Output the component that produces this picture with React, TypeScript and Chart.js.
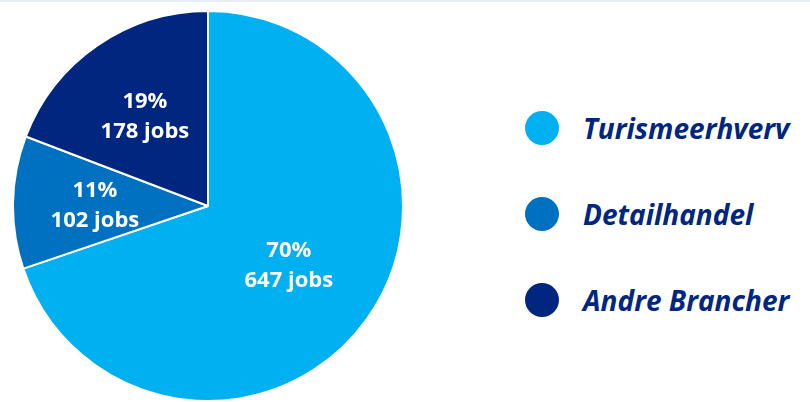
import React, { useEffect, useRef } from "react";
import { Chart, registerables } from "chart.js";

Chart.register(...registerables);

const categories = ["Turismeerhverv", "Detailhandel", "Andre Brancher"];
const jobs = [647, 102, 178];
const colors = ["#00B0F0", "#0070C0", "#00267F"];
const legendTextColor = "#00267F";

const labelPlugin = {
  id: "sliceLabels",
  afterDatasetsDraw(chart: any) {
    const ctx = chart.ctx;
    const meta = chart.getDatasetMeta(0);
    const data = chart.data.datasets[0].data as number[];
    const total = data.reduce((a, b) => a + b, 0);
    const factors = [0.51, 0.58, 0.57];
    ctx.save();
    ctx.fillStyle = "#ffffff";
    ctx.font = "bold 22px 'Open Sans'";
    ctx.textAlign = "center";
    ctx.textBaseline = "middle";
    meta.data.forEach((arc: any, i: number) => {
      const { x, y, startAngle, endAngle, outerRadius } = arc.getProps(
        ["x", "y", "startAngle", "endAngle", "outerRadius"],
        true
      );
      const mid = (startAngle + endAngle) / 2;
      const r = outerRadius * factors[i];
      const cx = x + Math.cos(mid) * r;
      const cy = y + Math.sin(mid) * r;
      const pct = Math.round((data[i] / total) * 100);
      ctx.fillText(pct + "%", cx, cy - 13);
      ctx.fillText(data[i] + " jobs", cx, cy + 17);
    });
    ctx.restore();
  },
};

export default function App() {
  const canvasRef = useRef<HTMLCanvasElement | null>(null);

  useEffect(() => {
    if (!canvasRef.current) return;
    const chart = new Chart(canvasRef.current, {
      type: "pie",
      data: {
        labels: categories,
        datasets: [
          {
            data: jobs,
            backgroundColor: colors,
            borderColor: "#ffffff",
            borderWidth: 2,
            hoverOffset: 0,
          },
        ],
      },
      options: {
        animation: false,
        responsive: true,
        maintainAspectRatio: false,
        layout: { padding: 0 },
        plugins: {
          legend: { display: false },
          tooltip: { enabled: false },
        },
      },
      plugins: [labelPlugin],
    });
    return () => chart.destroy();
  }, []);

  return (
    <div
      style={{
        position: "fixed",
        left: 0,
        top: 0,
        width: 810,
        height: 402,
        background: "#ffffff",
        overflow: "hidden",
      }}
    >
      <div
        style={{
          position: "absolute",
          left: 0,
          top: 0,
          width: 810,
          height: 2,
          background: "#E9EDF5",
        }}
      />
      <div
        style={{
          position: "absolute",
          left: 11.5,
          top: 9.5,
          width: 392,
          height: 392,
        }}
      >
        <canvas ref={canvasRef} />
      </div>
      <div style={{ position: "absolute", left: 525, top: 85 }}>
        {categories.map((c, i) => (
          <div
            key={c}
            style={{
              height: 86,
              display: "flex",
              alignItems: "center",
            }}
          >
            <div
              style={{
                width: 34,
                height: 34,
                borderRadius: "50%",
                background: colors[i],
                flex: "none",
              }}
            />
            <span
              style={{
                marginLeft: 24,
                fontFamily: "'Open Sans'",
                fontWeight: "bold",
                fontStyle: "italic",
                fontSize: 28,
                lineHeight: 1,
                color: legendTextColor,
                whiteSpace: "nowrap",
              }}
            >
              {c}
            </span>
          </div>
        ))}
      </div>
    </div>
  );
}
